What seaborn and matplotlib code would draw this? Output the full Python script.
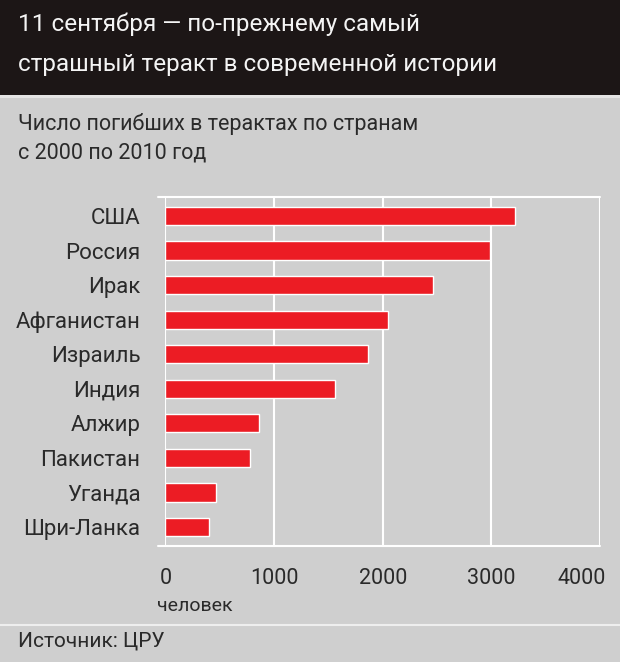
import matplotlib
matplotlib.use("Agg")
import matplotlib.pyplot as plt
import matplotlib.transforms as mtransforms
import seaborn as sns
import pandas as pd

countries = ["США", "Россия", "Ирак", "Афганистан", "Израиль", "Индия",
             "Алжир", "Пакистан", "Уганда", "Шри-Ланка"]
deaths = [3215, 2990, 2465, 2050, 1865, 1560, 860, 780, 465, 400]
xticks = [0, 1000, 2000, 3000, 4000]

title_lines = ["11 сентября — по-прежнему самый",
               "страшный теракт в современной истории"]
subtitle = "Число погибших в терактах по странам\nс 2000 по 2010 год"
unit = "человек"
source = "Источник: ЦРУ"

sns.set_style("white")
FONT = ["Roboto", "DejaVu Sans"]
plt.rcParams["font.family"] = FONT

BG = "#cfcfcf"
RED = "#ec1c24"
DARK = "#1c1616"
TXT = "#2a2a2a"

W, H = 620, 662
fig = plt.figure(figsize=(W / 100, H / 100), dpi=100, facecolor=BG)

# header band
fig.patches.append(plt.Rectangle((0, 1 - 95 / H), 1, 95 / H, transform=fig.transFigure,
                                 facecolor=DARK, edgecolor="none", zorder=0))
fig.patches.append(plt.Rectangle((0, 1 - 98 / H), 1, 3 / H, transform=fig.transFigure,
                                 facecolor="#e4e4e4", edgecolor="none", zorder=0))
for yc, line in zip((24, 64), title_lines):
    fig.text(18 / W, 1 - yc / H, line, color="#f4f4f4", fontsize=17.5,
             va="center", ha="left")
fig.text(18 / W, 1 - 113 / H, subtitle, color=TXT, fontsize=15.5, va="top", ha="left",
         linespacing=1.5)

# footer
fig.lines.append(plt.Line2D([0, 1], [1 - 625 / H] * 2, transform=fig.transFigure,
                            color="#eeeeee", lw=1.5))
fig.text(18 / W, 1 - 641 / H, source, color=TXT, fontsize=15, va="center", ha="left")

ax = fig.add_axes([165.5 / W, 1 - 546 / H, (600 - 165.5) / W, (546 - 197) / H])
ax.set_facecolor(BG)
df = pd.DataFrame({"country": countries, "deaths": deaths})
sns.barplot(data=df, y="country", x="deaths", orient="h", color=RED, width=0.53,
            saturation=1, ax=ax, zorder=3)
ax.set_xlim(0, 4000)
ax.set_ylim(9.55, -0.55)
ax.set_xticks(xticks)
ax.set_xticklabels([str(t) for t in xticks], fontsize=15.5, color=TXT)
ax.tick_params(axis="x", length=9, width=1.5, color="white", pad=7)
ax.tick_params(axis="y", which="major", length=0, pad=18, labelsize=16, labelcolor=TXT)
ax.set_yticks([i + 0.5 for i in range(len(countries) - 1)], minor=True)
ax.tick_params(axis="y", which="minor", length=8, width=1.5, color="white")
ax.grid(axis="x", color="white", lw=1.5, zorder=1)
ax.set_axisbelow(True)
for s in ax.spines.values():
    s.set_visible(False)
ax.set_xlabel("")
ax.set_ylabel("")

# last tick label is pulled inside the figure, as in the reference
last = ax.get_xticklabels()[-1]
last.set_horizontalalignment("right")
last.set_transform(last.get_transform() +
                   mtransforms.ScaledTranslation(6 / 100, 0, fig.dpi_scale_trans))

tr = mtransforms.blended_transform_factory(ax.transAxes, ax.transData)
for yv in (-0.55, 9.55):
    ax.plot([-0.018, 1.0], [yv, yv], color="white", lw=1.5, transform=tr,
            clip_on=False, zorder=2)

fig.text(157 / W, 1 - 606 / H, unit, color=TXT, fontsize=14, va="center", ha="left")

fig.savefig("out.png", dpi=100, facecolor=BG)
